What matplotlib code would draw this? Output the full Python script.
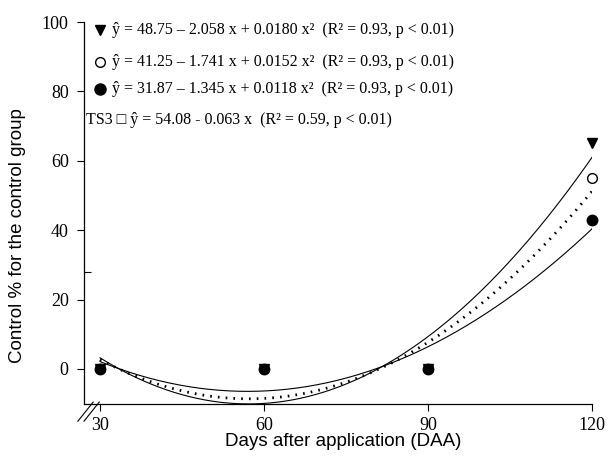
import numpy as np
import matplotlib
matplotlib.use("Agg")
import matplotlib.pyplot as plt

days = [30, 60, 90, 120]
tri_vals = [0, 0, 0, 65]
open_vals = [0, 0, 0, 55]
fill_vals = [0, 0, 0, 43]

coef_tri = (48.75, -2.058, 0.0180)
coef_open = (41.25, -1.741, 0.0152)
coef_fill = (31.87, -1.345, 0.0118)

eq_labels = [
    "ŷ = 48.75 – 2.058 x + 0.0180 x²  (R² = 0.93, p < 0.01)",
    "ŷ = 41.25 – 1.741 x + 0.0152 x²  (R² = 0.93, p < 0.01)",
    "ŷ = 31.87 – 1.345 x + 0.0118 x²  (R² = 0.93, p < 0.01)",
    "TS3 □ ŷ = 54.08 - 0.063 x  (R² = 0.59, p < 0.01)",
]

serif = ["Liberation Serif", "DejaVu Serif"]
sans = ["Liberation Sans", "DejaVu Sans"]

fig = plt.figure(figsize=(6.08, 4.69), dpi=100)
ax = fig.add_axes([84/608, 1-404/469, (592-84)/608, (404-22)/469])

xs = np.linspace(30, 120, 200)
def quad(c, x):
    return c[0] + c[1]*x + c[2]*x**2

ax.plot(xs, quad(coef_tri, xs), color="black", lw=0.8)
ax.plot(xs, quad(coef_fill, xs), color="black", lw=0.8)
ax.plot(xs, quad(coef_open, xs), color="black", lw=2.0, linestyle=(0, (0.6, 2.2)))

ax.plot(days, tri_vals, "v", color="black", ms=7, ls="none", zorder=5, clip_on=False)
ax.plot(days, open_vals, "o", mfc="white", mec="black", mew=1.0, ms=7, ls="none", zorder=5, clip_on=False)
ax.plot(days, fill_vals, "o", color="black", ms=7.5, ls="none", zorder=6, clip_on=False)

ax.set_xlim(27.07, 120)
ax.set_ylim(-10.1, 100)
ax.set_xticks(days)
ax.set_yticks([0, 20, 40, 60, 80, 100])
ax.set_yticks([28], minor=True)
for lbl in ax.get_xticklabels() + ax.get_yticklabels():
    lbl.set_fontfamily(serif)
    lbl.set_fontsize(13)
ax.tick_params(direction="out", length=5, width=0.8)
ax.tick_params(axis="y", which="minor", direction="in", length=5, width=0.8)
ax.tick_params(axis="x", pad=4)
ax.tick_params(axis="y", pad=6)
for s in ["top", "right"]:
    ax.spines[s].set_visible(False)
for s in ["left", "bottom"]:
    ax.spines[s].set_linewidth(0.9)

ax.set_xlabel("Days after application (DAA)", family=sans, fontsize=13.5)
ax.xaxis.set_label_coords(0.51, -0.075)
ax.set_ylabel("Control % for the control group", family=sans, fontsize=13.5)
ax.yaxis.set_label_coords(-0.115, 0.44)

# axis break marks
for dx in (0.0, 0.012):
    ax.plot([-0.012 + dx, 0.018 + dx], [-0.045, 0.005], transform=ax.transAxes,
            color="black", lw=0.8, clip_on=False)

# equation legend
ys = [1 - 8/382, 1 - 40/382, 1 - 67/382, 1 - 98/382]
ax.plot([16/508], [ys[0]], "v", color="black", ms=7, transform=ax.transAxes, clip_on=False)
ax.plot([16/508], [ys[1]], "o", mfc="white", mec="black", ms=7, transform=ax.transAxes, clip_on=False)
ax.plot([16/508], [ys[2]], "o", color="black", ms=8, transform=ax.transAxes, clip_on=False)
for i, t in enumerate(eq_labels):
    x0 = 28/508 if i < 3 else 2/508
    ax.text(x0, ys[i], t, transform=ax.transAxes, family=serif, fontsize=11.5,
            va="center", ha="left")

fig.savefig("out.png", dpi=100)
